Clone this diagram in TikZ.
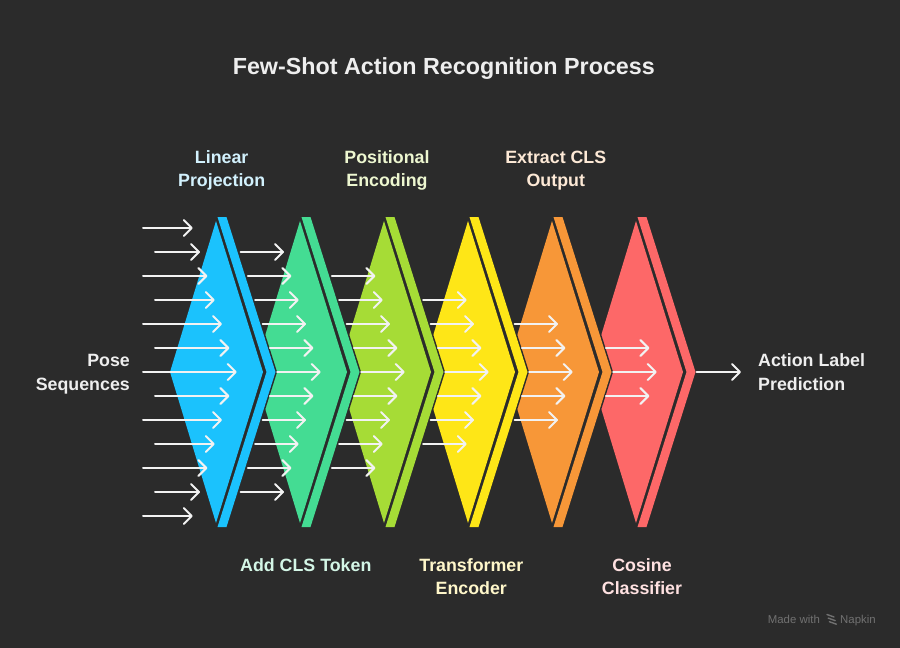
\documentclass[tikz,border=0pt]{standalone}
\usepackage{fontspec}
\setmainfont{Liberation Sans}
\usetikzlibrary{arrows.meta}
\definecolor{bg}{HTML}{2B2B2B}
\definecolor{cblue}{HTML}{1BC2FD}
\definecolor{cgreen}{HTML}{44DC93}
\definecolor{clime}{HTML}{A6DC36}
\definecolor{cyellow}{HTML}{FEE617}
\definecolor{corange}{HTML}{F79738}
\definecolor{cred}{HTML}{FD6868}
\definecolor{tblue}{HTML}{D2F1FD}
\definecolor{tgreen}{HTML}{D3F6E6}
\definecolor{tlime}{HTML}{EDF7D0}
\definecolor{tyellow}{HTML}{FFF7CA}
\definecolor{torange}{HTML}{FDE9D6}
\definecolor{tred}{HTML}{FFE1E1}
\definecolor{twhite}{HTML}{EEEEEE}
\definecolor{arrowc}{HTML}{F2F2F2}
\definecolor{wm}{HTML}{717171}
\tikzset{
  arr/.style={draw=arrowc, line width=2pt, line cap=round, line join=round,
    -{Straight Barb[length=8pt,width=16pt,line cap=round,line join=round]}},
  lbl/.style={anchor=base, inner sep=0pt, font=\fontsize{17.8}{22}\selectfont\bfseries},
  ttl/.style={anchor=base, inner sep=0pt, font=\fontsize{23.3}{28}\selectfont\bfseries, text=twhite},
  wmk/.style={anchor=base west, inner sep=0pt, font=\fontsize{11.4}{13}\selectfont, text=wm},
}
\begin{document}
\begin{tikzpicture}[x=1pt,y=-1pt]
\fill[bg] (0,0) rectangle (900,648);
\useasboundingbox (0,0) rectangle (900,648);
% stages, right to left
\foreach \k/\c in {5/cred,4/corange,3/cyellow,2/clime,1/cgreen,0/cblue}{
  \pgfmathsetmacro\t{216+84*\k}
  \filldraw[bg, line width=3pt, line join=round]
    ({\t-46},372) -- (\t,221) -- ({\t+1.5},217) -- ({\t+10.5},217) -- ({\t+59.5},372)
    -- ({\t+10.5},527) -- ({\t+1.5},527) -- (\t,523) -- cycle;
  \fill[\c] ({\t-46},372) -- (\t,221) -- ({\t+47},372) -- (\t,523) -- cycle;
  \fill[\c] ({\t+1.5},217) -- ({\t+10.5},217) -- ({\t+59.5},372)
    -- ({\t+10.5},527) -- ({\t+1.5},527) -- ({\t+50.5},372) -- cycle;
}
% input arrows
\foreach \j in {-6,...,6}{
  \pgfmathsetmacro\ex{236.7-7.33*abs(\j)}
  \pgfmathsetmacro\sx{143+12*mod(abs(\j),2)}
  \draw[arr] (\sx,{372+24*\j}) -- (\ex,{372+24*\j});
}
% arrows between stages
\foreach \k/\n in {1/5,2/4,3/3,4/2,5/1}{
  \foreach \j in {-\n,...,\n}{
    \pgfmathsetmacro\ex{216+84*\k+20.7-7.33*abs(\j)}
    \draw[arr] ({\ex-43.5},{372+24*\j}) -- (\ex,{372+24*\j});
  }
}
% output arrow
\coordinate (outs) at (696.7,372);
\coordinate (oute) at (741,372);
\draw[arr] (outs) -- (oute);
% title
\node[ttl] (title) at (443.8,74.3) {Few-Shot Action Recognition Process};
% top labels
\node[lbl, text=tblue] (lp1) at (221.7,163.3) {Linear};
\node[lbl, text=tblue] (lp2) at (221.7,186.7) {Projection};
\node[lbl, text=tlime] (pe1) at (387,163.3) {Positional};
\node[lbl, text=tlime] (pe2) at (387,186.7) {Encoding};
\node[lbl, text=torange] (ec1) at (555.8,163.3) {Extract CLS};
\node[lbl, text=torange] (ec2) at (555.8,186.7) {Output};
% bottom labels
\node[lbl, text=tgreen] (ac1) at (305.8,571.3) {Add CLS Token};
\node[lbl, text=tyellow] (te1) at (471.3,571.3) {Transformer};
\node[lbl, text=tyellow] (te2) at (471.3,594.7) {Encoder};
\node[lbl, text=tred] (cc1) at (642,571.3) {Cosine};
\node[lbl, text=tred] (cc2) at (642,594.7) {Classifier};
% side labels
\node[lbl, anchor=base east, text=twhite] (ps1) at (130,366.7) {Pose};
\node[lbl, anchor=base east, text=twhite] (ps2) at (130,390) {Sequences};
\node[lbl, anchor=base west, text=twhite] (al1) at (758,366.7) {Action Label};
\node[lbl, anchor=base west, text=twhite] (al2) at (758,390) {Prediction};
% watermark
\node[wmk] (wm1) at (767.7,623.5) {Made with};
\node[wmk] (wm2) at (840,623.5) {Napkin};
\foreach \i in {0,1,2}{
  \draw[wm, line width=1.4pt, line cap=round] ({827+1.2*\i},{614.5+3.6*\i}) -- ({834+1.2*\i},{617+3.6*\i});
}
\end{tikzpicture}
\end{document}
